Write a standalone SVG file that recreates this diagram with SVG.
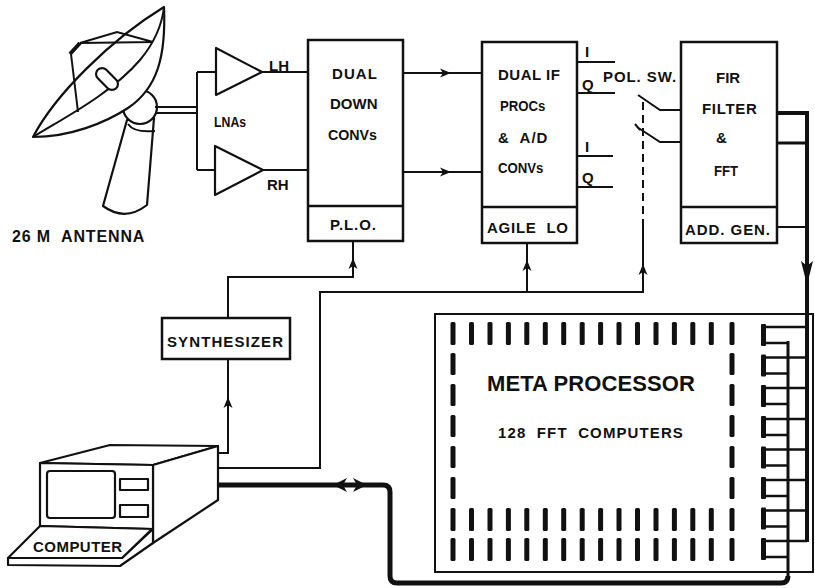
<svg xmlns="http://www.w3.org/2000/svg" width="815" height="588" viewBox="0 0 815 588">
<style>
.ln{fill:none;stroke:#111;stroke-width:2}
.bx{fill:#fff;stroke:#111;stroke-width:2.5}
.sh{fill:#fff;stroke:#111;stroke-width:2.2;stroke-linejoin:round}
.t{font-family:"Liberation Sans",Arial,Helvetica,sans-serif;font-weight:bold;fill:#111;font-size:15px;white-space:pre}
</style>
<defs>
<path id="ah" d="M0,0 L-11,-4.5 L-8,0 L-11,4.5 Z" fill="#111"/>
<path id="ahb" d="M0,0 L-24,-6 L-19,0 L-24,6 Z" fill="#111"/>
<path id="ahw" d="M0,0 L-14,-7 L-10,0 L-14,7 Z" fill="#111"/>
<rect id="dash" x="-2.5" y="0" width="5" height="23" rx="1.5" fill="#111"/>
<rect id="dashs" x="-2.5" y="0" width="5" height="22" rx="1.5" fill="#111"/>
<g id="pin">
<rect x="761" y="-11" width="5" height="22" rx="1" fill="#111"/>
<line x1="763" y1="-8" x2="807" y2="-8" stroke="#111" stroke-width="2.5"/>
<line x1="763" y1="8" x2="788" y2="8" stroke="#111" stroke-width="2.5"/>
</g>
</defs>

<g id="antenna">
<path class="sh" d="M127,120 L103,206 Q125,222 147,205 L154,118 Z"/>
<circle class="sh" cx="140" cy="107" r="17"/>
<path class="ln" d="M128,124 Q134,133 155,131"/>
<path class="sh" d="M33,137 C55,95 110,40 164,7 C166,55 158,88 128,108 C105,123 70,137 33,137 Z"/>
<path class="ln" stroke-width="2.2" d="M33,137 C60,120 110,95 140,60 C155,42 162,25 164,7"/>
<rect class="sh" x="94" y="73" width="26" height="12" rx="6" transform="rotate(45 107 79)"/>
<path class="ln" stroke-width="2.2" d="M71,54 L78,112 M80,43 L153,42 M80,43 L117,32 L153,42"/>
<line x1="70" y1="54" x2="80" y2="43" stroke="#111" stroke-width="4"/>
<text class="t" x="12" y="242" style="font-size:16px" letter-spacing="0.86">26 M  ANTENNA</text>
</g>

<g id="lna-lh">
<path class="sh" d="M216,48 L216,95 L262,72 Z"/>
<text class="t" x="269" y="71">LH</text>
</g>
<g id="lna-rh">
<path class="sh" d="M215,146 L215,195 L263,170 Z"/>
<text class="t" x="267" y="190">RH</text>
</g>
<text class="t" transform="translate(214,127) scale(0.82,1)">LNAs</text>

<g id="downconv">
<rect class="bx" x="308" y="40" width="95" height="201"/>
<line x1="308" y1="206" x2="403" y2="206" stroke="#111" stroke-width="2.5"/>
<text class="t" x="332" y="79" letter-spacing="1.1">DUAL</text>
<text class="t" x="330" y="109">DOWN</text>
<text class="t" transform="translate(328,140) scale(0.95,1)">CONVs</text>
<text class="t" x="330" y="230" letter-spacing="0.9">P.L.O.</text>
</g>

<g id="ifproc">
<rect class="bx" x="482" y="42" width="95" height="201"/>
<line x1="482" y1="207" x2="577" y2="207" stroke="#111" stroke-width="2.5"/>
<text class="t" x="498" y="80" letter-spacing="0.5">DUAL IF</text>
<text class="t" transform="translate(500,111) scale(0.88,1)">PROCs</text>
<text class="t" x="498" y="143" letter-spacing="1">&amp;  A/D</text>
<text class="t" transform="translate(498,173) scale(0.88,1)">CONVs</text>
<text class="t" x="487" y="233" letter-spacing="0.75">AGILE  LO</text>
<text class="t" x="585" y="57">I</text>
<text class="t" x="582" y="90">Q</text>
<text class="t" x="585" y="152">I</text>
<text class="t" x="582" y="183">Q</text>
</g>

<g id="polsw">
<text class="t" x="603" y="82" letter-spacing="0.93">POL. SW.</text>
<path class="ln" d="M638,95 L660,110 L681,110 M637,127 L660,142 L681,142 M635,124 L640,130"/>
<line x1="643" y1="102" x2="643" y2="220" stroke="#111" stroke-width="2" stroke-dasharray="8,5"/>
</g>

<g id="fir">
<rect class="bx" x="681" y="42" width="96" height="201"/>
<line x1="681" y1="207" x2="777" y2="207" stroke="#111" stroke-width="2.5"/>
<text class="t" x="716" y="83">FIR</text>
<text class="t" x="702" y="114" letter-spacing="0.7">FILTER</text>
<text class="t" x="716" y="143">&amp;</text>
<text class="t" transform="translate(714,176) scale(0.88,1)">FFT</text>
<text class="t" x="685" y="235" letter-spacing="0.94">ADD. GEN.</text>
</g>

<g id="synth">
<rect class="bx" x="162" y="318" width="128" height="41"/>
<text class="t" x="167" y="347" letter-spacing="1.1">SYNTHESIZER</text>
</g>

<g id="computer">
<path class="sh" d="M40,463 L110,445 L218,446 L153,465 Z"/>
<path class="sh" d="M153,465 L218,446 L218,500 L153,543 Z"/>
<path class="sh" d="M40,463 L153,465 L153,529 L40,526 Z"/>
<path class="sh" d="M8,558 L8,565 L120,566 L153,543 L153,529 L122,558 Z"/>
<path class="sh" d="M40,526 L152,529 L122,558 L8,558 Z"/>
<rect class="sh" x="47" y="471" width="68" height="47" rx="3" stroke-width="2.5"/>
<rect class="sh" x="120" y="479" width="28" height="11"/>
<rect class="sh" x="120" y="505" width="28" height="12"/>
<text class="t" x="33" y="552" letter-spacing="0.46">COMPUTER</text>
</g>

<g id="metaprocessor">
<rect x="435" y="314" width="378" height="258" fill="none" stroke="#111" stroke-width="2"/>
<g id="toprow">
<use href="#dash" x="453" y="322"/><use href="#dash" x="471.5" y="322"/><use href="#dash" x="490" y="322"/><use href="#dash" x="508.4" y="322"/>
<use href="#dash" x="526.8" y="322"/><use href="#dash" x="545.3" y="322"/><use href="#dash" x="563.7" y="322"/><use href="#dash" x="582.2" y="322"/>
<use href="#dash" x="600.6" y="322"/><use href="#dash" x="619" y="322"/><use href="#dash" x="637.5" y="322"/><use href="#dash" x="656" y="322"/>
<use href="#dash" x="674.4" y="322"/><use href="#dash" x="692.8" y="322"/><use href="#dash" x="711.3" y="322"/><use href="#dash" x="732" y="322"/>
</g>
<use href="#toprow" y="186"/>
<use href="#toprow" y="216"/>
<g id="leftcol">
<use href="#dashs" x="453" y="353"/><use href="#dashs" x="453" y="384"/><use href="#dashs" x="453" y="415"/><use href="#dashs" x="453" y="446"/><use href="#dashs" x="453" y="477"/>
</g>
<use href="#leftcol" x="279"/>
<text class="t" x="487" y="391" style="font-size:22px" letter-spacing="0.1">META PROCESSOR</text>
<text class="t" x="498" y="438" letter-spacing="1.1">128  FFT  COMPUTERS</text>
<use href="#pin" y="335"/><use href="#pin" y="365.5"/><use href="#pin" y="396"/><use href="#pin" y="427"/>
<use href="#pin" y="457.5"/><use href="#pin" y="488"/><use href="#pin" y="518.5"/><use href="#pin" y="549"/>
</g>

<g id="connectors">
<path class="ln" d="M155,107 L197,107 M155,113 L197,113 M197,72 L197,170 M197,72 L216,72 M197,170 L215,170"/>
<path class="ln" d="M262,72 L308,72 M263,170 L308,170"/>
<path class="ln" d="M403,73 L482,73 M403,172 L482,172"/>
<use href="#ah" x="451" y="73"/><use href="#ah" x="451" y="172"/>
<path class="ln" d="M577,62 L615,62 M577,93 L615,93 M577,156 L613,156 M577,187 L613,187"/>
<path class="ln" d="M353,241 L353,277 L228,277 L228,318"/>
<use href="#ah" transform="translate(353,258) rotate(-90)"/>
<path class="ln" d="M228,359 L228,453 L219,453"/>
<use href="#ah" transform="translate(228,397) rotate(-90)"/>
<path class="ln" d="M219,468 L320,468 L320,292 L643,292 L643,220"/>
<path class="ln" d="M527,292 L527,243"/>
<use href="#ah" transform="translate(527,260) rotate(-90)"/>
<use href="#ah" transform="translate(643,264) rotate(-90)"/>
<path fill="none" stroke="#111" stroke-width="4" d="M777,113 L809,113 M807,111 L807,542"/>
<path fill="none" stroke="#111" stroke-width="3" d="M777,143 L807,143"/>
<path class="ln" stroke-width="2.5" d="M777,227 L807,227"/>
<use href="#ahb" transform="translate(807,285) rotate(90)"/>
<path fill="none" stroke="#111" stroke-width="5" stroke-linejoin="round" d="M219,485 L383,485 Q390,485 390,492 L390,576 Q390,583 397,583 L781,583 Q788,583 788,576"/>
<path fill="none" stroke="#111" stroke-width="3" d="M788,341 L788,578"/>
<use href="#ahw" transform="translate(333,485) rotate(180)"/>
<use href="#ahw" x="367" y="485"/>
</g>
</svg>
